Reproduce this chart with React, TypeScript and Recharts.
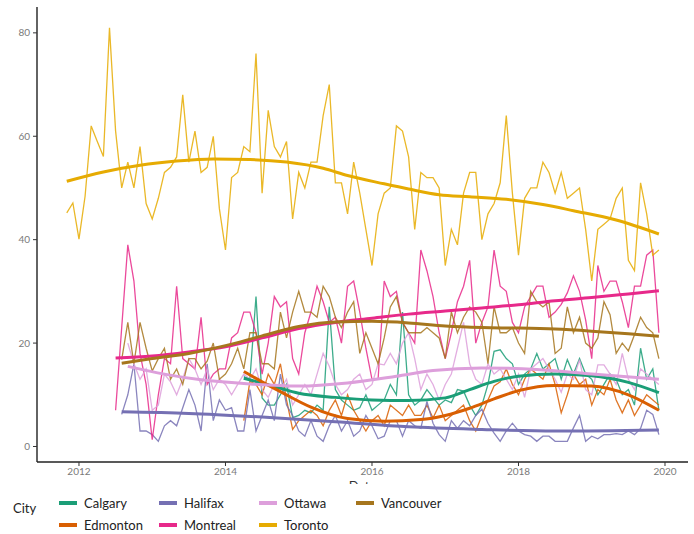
import { LineChart, Line, XAxis, YAxis } from "recharts";

// monthly values
const cities = ["Calgary", "Edmonton", "Halifax", "Montreal", "Ottawa", "Toronto", "Vancouver"];

const torontoStart = "2011-11";
const torontoValues = [
  45.2, 47.1, 40.1, 48.4, 62, 59, 56.1, 81, 61, 50, 55, 50, 58, 47, 44, 48, 53, 54, 56, 68,
  55, 61, 53, 54, 60, 46, 38, 52, 53, 58, 57, 76, 49, 65, 58, 56, 59, 44, 53, 50,
  55, 55, 64, 70, 51, 51, 45, 55, 49, 42, 35, 45, 49, 50, 62, 61, 56, 42, 53, 52,
  52, 50, 35, 42, 39, 49, 53, 53, 40, 45, 47, 51, 64, 49, 37, 48, 50, 50, 55, 53,
  49, 53, 48, 49, 50, 42, 32, 42, 43, 44, 48, 50, 36, 34, 51, 45, 37, 38,
];

const montrealStart = "2012-07";
const montrealValues = [
  7, 23, 39, 32, 18, 12, 1.3, 10, 17, 16, 31, 17, 16, 15, 25, 12, 14, 15, 15, 21,
  22, 26, 26, 22, 14, 20, 29, 27, 28, 17, 14, 22, 26, 31, 28, 24, 25, 20, 31, 32,
  26, 19, 13, 13, 32, 29, 30, 24, 22, 20, 38, 34, 29, 22, 17, 22, 28, 31, 36, 20,
  24, 27, 38, 31, 30, 24, 22, 27, 29, 31, 31, 25, 26, 27.5, 29.7, 33, 30, 24.5, 17, 35,
  30, 32, 32, 28, 23, 31, 31, 37, 38, 22,
];

const vancouverStart = "2012-08";
const vancouverValues = [
  16.8, 24, 16, 24, 19, 14.6, 17, 19, 13, 15, 12, 17, 17, 15, 16.5, 20, 13, 14, 16, 19,
  15, 22, 22, 16, 16, 15, 26, 21, 26, 30, 26, 26, 25, 31, 29, 25, 23, 26, 28, 18,
  22, 19, 16, 21, 27, 29, 24, 22, 22, 22, 23, 22, 21, 17, 26, 22, 25, 27, 26, 24,
  16, 27, 22, 22, 23, 20, 18, 30, 28, 27, 28, 18, 19, 27, 22, 25, 20, 19, 21, 28,
  25.5, 18, 20, 18.5, 21.6, 25, 23, 22, 17,
];

const halifaxStart = "2012-08";
const halifaxValues = [
  6.2, 10, 16, 3, 3, 2.3, 1, 4, 5, 4, 7.5, 11, 8, 3, 16, 5, 9, 7, 7.5, 3,
  3, 11, 3, 6, 9, 5, 14, 8, 6, 3, 2, 5, 2, 1, 4, 6, 3, 5, 2, 3,
  6, 4, 1.5, 2, 5, 5, 2, 5, 4, 3.5, 8.7, 4.5, 2.3, 1, 5, 3.5, 5, 4, 6, 7.2,
  4.5, 2.6, 1, 3, 4.5, 3, 2.3, 2, 1, 2, 2, 1, 1, 1, 3.6, 6, 1, 2, 1.5, 2.3,
  2.3, 2.5, 2.3, 3, 2.3, 3.5, 7, 6.2, 2.3,
];

const ottawaStart = "2012-09";
const ottawaValues = [
  20, 16, 13, 15, 7, 8, 14, 12.5, 10, 13, 17, 15, 12, 15, 11, 13, 12, 10, 12, 14,
  13, 15, 11, 9.5, 12, 11, 13, 8, 10, 12, 10, 14, 18, 15.5, 12, 10, 11, 13, 14, 11,
  12, 16, 15.8, 18, 16, 20, 22, 17, 11, 14, 12, 9, 12, 14, 19, 24, 16, 13, 12, 16,
  14, 15, 13, 11, 14, 9.5, 15, 16, 17, 15, 13, 10.5, 14, 13, 16.8, 11, 10, 15.8, 15.8, 14,
  12, 18, 13, 11, 15, 14, 13, 12,
];

const calgaryStart = "2014-04";
const calgaryValues = [
  13.5, 13, 29, 9.4, 8, 8, 10, 12, 5.6, 6, 7, 6.5, 8, 7, 27, 11, 9, 8, 7, 7.5,
  10, 7, 8, 9, 12, 10, 26, 10, 8, 9, 11, 9.5, 8, 9, 8.5, 11, 10.7, 8, 6, 8,
  12, 18.4, 18.7, 17, 16, 12, 14, 15, 18, 15, 16, 17, 13, 16.8, 14, 17, 14, 13, 10, 12,
  14, 13, 10, 11, 8, 19, 13, 15, 7,
];

const edmontonStart = "2014-04";
const edmontonValues = [
  5, 12.6, 12, 10, 14, 12, 16, 9, 3.3, 5, 6, 7, 6, 4, 7, 9, 6, 10, 7, 5,
  3, 5, 6, 4, 8, 7, 6, 8, 6, 6, 8, 5.5, 8, 5, 6, 7, 8, 5, 3, 6,
  9, 11.7, 12.5, 15, 12, 10, 13, 15, 14, 13, 16, 12, 6.5, 10, 14, 12, 13, 8, 11, 10,
  13, 9, 6.5, 9, 6, 8, 10, 9, 8,
];

// smoothed trend, read as knots
const torontoTrend: [string, number][] = [
  ["2011-11", 51.3], ["2012-05", 53.1], ["2012-11", 54.4], ["2013-05", 55.2], ["2013-11", 55.6],
  ["2014-05", 55.5], ["2014-11", 55], ["2015-05", 53.8], ["2015-09", 52.4], ["2016-03", 50.8],
  ["2016-07", 49.8], ["2016-12", 48.7], ["2017-05", 48.3], ["2017-11", 47.8], ["2018-05", 46.8],
  ["2018-10", 45.6], ["2019-05", 43.8], ["2019-12", 41.1],
];
const montrealTrend: [string, number][] = [
  ["2012-07", 17.1], ["2013-01", 17.5], ["2013-07", 18.3], ["2014-01", 19.3], ["2014-07", 21],
  ["2015-01", 22.8], ["2015-07", 24], ["2016-01", 24.8], ["2016-07", 25.6], ["2017-01", 26.2],
  ["2017-07", 26.8], ["2018-01", 27.4], ["2018-07", 28.2], ["2019-01", 28.8], ["2019-07", 29.5],
  ["2019-12", 30.1],
];
const vancouverTrend: [string, number][] = [
  ["2012-08", 16.1], ["2013-01", 17], ["2013-07", 18], ["2014-01", 19.5], ["2014-07", 21.4],
  ["2015-01", 23.2], ["2015-07", 24.1], ["2016-01", 24.2], ["2016-07", 23.9], ["2017-01", 23.3],
  ["2017-07", 23], ["2018-01", 22.9], ["2018-07", 22.7], ["2019-01", 22.3], ["2019-07", 21.8],
  ["2019-12", 21.3],
];
const halifaxTrend: [string, number][] = [
  ["2012-08", 6.7], ["2013-07", 6.4], ["2014-07", 5.7], ["2015-07", 4.8], ["2016-07", 3.8],
  ["2017-07", 3.3], ["2018-07", 3.0], ["2019-12", 3.2],
];
const ottawaTrend: [string, number][] = [
  ["2012-09", 15.5], ["2013-03", 14], ["2013-09", 12.9], ["2014-05", 12.1], ["2015-01", 11.7],
  ["2015-09", 12.3], ["2016-05", 13.6], ["2016-11", 14.7], ["2017-07", 15.2], ["2018-04", 14.9],
  ["2019-01", 14], ["2019-12", 13],
];
const calgaryTrend: [string, number][] = [
  ["2014-04", 13.2], ["2014-09", 11.6], ["2015-01", 10.3], ["2015-07", 9.5], ["2016-01", 9.0],
  ["2016-07", 8.9], ["2017-01", 9.4], ["2017-05", 11], ["2017-09", 12.6], ["2018-01", 13.6],
  ["2018-07", 14.0], ["2019-01", 13.7], ["2019-07", 12.4], ["2019-12", 10.4],
];
const edmontonTrend: [string, number][] = [
  ["2014-04", 14.5], ["2014-07", 12.5], ["2014-10", 10.6], ["2015-03", 7.6], ["2015-09", 5.4],
  ["2016-03", 4.9], ["2016-09", 5.2], ["2017-01", 6], ["2017-05", 7.4], ["2017-09", 9.2],
  ["2018-01", 10.8], ["2018-07", 11.8], ["2019-01", 11.7], ["2019-07", 10.0], ["2019-12", 7.0],
];

const yTicks = [0, 20, 40, 60, 80];
const xTicks = [2012, 2014, 2016, 2018, 2020];

const colors: Record<string, string> = {
  Calgary: "#1b9e77",
  Edmonton: "#d95f02",
  Halifax: "#7570b3",
  Montreal: "#e7298a",
  Ottawa: "#dd9fdb",
  Toronto: "#e6ab02",
  Vancouver: "#a6761d",
};

const toYear = (s: string) => {
  const [y, m] = s.split("-").map(Number);
  return y + (m - 1) / 12;
};

const monthly = (start: string, values: number[]) => {
  const t0 = toYear(start);
  return values.map((v, i) => ({ t: t0 + i / 12, v }));
};

const knots = (k: [string, number][]) => k.map(([d, v]) => ({ t: toYear(d), v }));

const raw: Record<string, { t: number; v: number }[]> = {
  Calgary: monthly(calgaryStart, calgaryValues),
  Edmonton: monthly(edmontonStart, edmontonValues),
  Halifax: monthly(halifaxStart, halifaxValues),
  Montreal: monthly(montrealStart, montrealValues),
  Ottawa: monthly(ottawaStart, ottawaValues),
  Toronto: monthly(torontoStart, torontoValues),
  Vancouver: monthly(vancouverStart, vancouverValues),
};

const trend: Record<string, { t: number; v: number }[]> = {
  Calgary: knots(calgaryTrend),
  Edmonton: knots(edmontonTrend),
  Halifax: knots(halifaxTrend),
  Montreal: knots(montrealTrend),
  Ottawa: knots(ottawaTrend),
  Toronto: knots(torontoTrend),
  Vancouver: knots(vancouverTrend),
};

const font = "Lato, 'Open Sans', sans-serif";
const legendCols = [59, 159, 259, 356];
const legendRows = [20, 42];

const App = () => {
  return (
    <div style={{ position: "absolute", left: 0, top: 0, width: 694, height: 534, background: "#fff", fontFamily: font }}>
      <LineChart width={694} height={534} margin={{ top: 7, right: 6, left: 0, bottom: 42 }}>
        <XAxis
          dataKey="t"
          type="number"
          domain={[2011.427, 2020.314]}
          ticks={xTicks}
          allowDataOverflow
          tick={{ fontSize: 10, fill: "#7a7a7a", fontFamily: font }}
          tickSize={4}
          tickMargin={2}
          axisLine={{ stroke: "#222", strokeWidth: 1.4 }}
          tickLine={{ stroke: "#333" }}
          height={30}
          label={{ value: "Date", position: "insideBottom", offset: 1, fontSize: 13, fill: "#333", fontFamily: font }}
        />
        <YAxis
          type="number"
          domain={[-3, 85]}
          ticks={yTicks}
          allowDataOverflow
          width={37}
          tick={{ fontSize: 10, fill: "#7a7a7a", fontFamily: font }}
          tickSize={4}
          tickMargin={3}
          axisLine={{ stroke: "#222", strokeWidth: 1.4 }}
          tickLine={{ stroke: "#333" }}
        />
        {cities.map((c) => (
          <Line
            key={c + "-raw"}
            data={raw[c]}
            dataKey="v"
            type="linear"
            stroke={colors[c]}
            strokeWidth={1.3}
            strokeOpacity={0.85}
            dot={false}
            activeDot={false}
            isAnimationActive={false}
          />
        ))}
        {cities.map((c) => (
          <Line
            key={c + "-trend"}
            data={trend[c]}
            dataKey="v"
            type="monotone"
            stroke={colors[c]}
            strokeWidth={3}
            dot={false}
            activeDot={false}
            isAnimationActive={false}
          />
        ))}
      </LineChart>
      <div style={{ position: "absolute", left: 0, top: 484, width: 694, height: 50, background: "#fff", fontSize: 13, color: "#222" }}>
        <div style={{ position: "absolute", left: 13, top: 24, lineHeight: "16px", transform: "translateY(-50%)" }}>City</div>
        {cities.map((c, i) => (
          <div
            key={c}
            style={{
              position: "absolute",
              left: legendCols[Math.floor(i / 2)],
              top: legendRows[i % 2] - 1,
              transform: "translateY(-50%)",
              display: "flex",
              alignItems: "center",
              lineHeight: "16px",
            }}
          >
            <span style={{ display: "inline-block", width: 18, height: 4, background: colors[c], marginRight: 7 }} />
            <span>{c}</span>
          </div>
        ))}
      </div>
    </div>
  );
};

export default App;
